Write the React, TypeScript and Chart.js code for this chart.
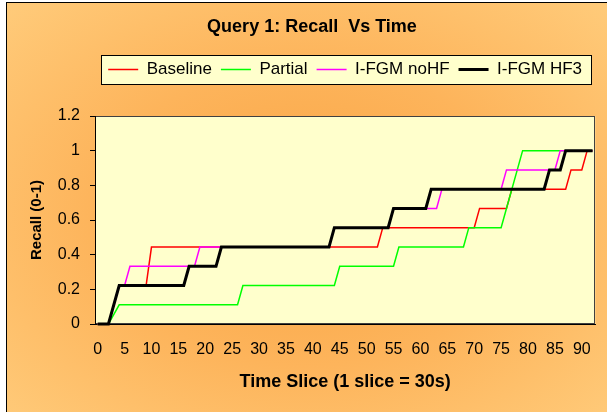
import React, { useEffect, useRef } from 'react';
import { Chart, registerables } from 'chart.js';

Chart.register(...registerables);

const titleText = 'Query 1: Recall  Vs Time';
const xTitleText = 'Time Slice (1 slice = 30s)';
const yTitleText = 'Recall (0-1)';

const seriesNames = ['Baseline', 'Partial', 'I-FGM noHF', 'I-FGM HF3'];
const seriesColors = ['#FF0000', '#00FF00', '#FF00FF', '#000000'];
const seriesWidths = [1.5, 1.5, 1.5, 3];

// corner points (time slice, recall) of each step curve
const baselineX = [0, 2, 4, 9, 10, 52, 53, 70, 71, 76, 77, 87, 88, 90, 91, 92];
const baselineY = [0, 0, 0.222, 0.222, 0.444, 0.444, 0.556, 0.556, 0.667, 0.667, 0.778, 0.778, 0.889, 0.889, 1, 1];

const partialX = [0, 2, 4, 26, 27, 44, 45, 55, 56, 68, 69, 75, 79, 92];
const partialY = [0, 0, 0.111, 0.111, 0.222, 0.222, 0.333, 0.333, 0.444, 0.444, 0.556, 0.556, 1, 1];

const noHFX = [0, 2, 4, 5, 6, 18, 19, 43, 44, 54, 55, 63, 64, 75, 76, 85, 86, 92];
const noHFY = [0, 0, 0.222, 0.222, 0.333, 0.333, 0.444, 0.444, 0.556, 0.556, 0.667, 0.667, 0.778, 0.778, 0.889, 0.889, 1, 1];

const hf3X = [0, 2, 4, 16, 17, 22, 23, 43, 44, 54, 55, 61, 62, 83, 84, 86, 87, 92];
const hf3Y = [0, 0, 0.222, 0.222, 0.333, 0.333, 0.444, 0.444, 0.556, 0.556, 0.667, 0.667, 0.778, 0.778, 0.889, 0.889, 1, 1];

const xTickValues = [0, 5, 10, 15, 20, 25, 30, 35, 40, 45, 50, 55, 60, 65, 70, 75, 80, 85, 90];
const yTickValues = [0, 0.2, 0.4, 0.6, 0.8, 1, 1.2];
const yTickLabels = ['0', '0.2', '0.4', '0.6', '0.8', '1', '1.2'];

const bgPlugin = {
  id: 'bgPlugin',
  beforeDraw(chart: any) {
    const { ctx, chartArea: a } = chart;
    ctx.save();
    ctx.fillStyle = '#FFFFCC';
    ctx.fillRect(a.left, a.top, a.right - a.left, a.bottom - a.top);
    ctx.strokeStyle = '#404040';
    ctx.lineWidth = 1;
    ctx.strokeRect(Math.round(a.left) + 0.5, Math.round(a.top) + 0.5, Math.round(a.right - a.left) - 1, Math.round(a.bottom - a.top) - 1);
    const lg = chart.legend;
    const hb = lg && lg.legendHitBoxes;
    if (hb && hb.length) {
      const first = hb[0];
      const last = hb[hb.length - 1];
      const cy = first.top + first.height / 2;
      const l = Math.round(first.left - 7.5) + 0.5;
      const r = Math.round(last.left + last.width + 8.5) + 0.5;
      const t = Math.round(cy - 14.5) + 0.5;
      const b = Math.round(cy + 14.5) + 0.5;
      ctx.fillStyle = '#FFFFCC';
      ctx.fillRect(l, t, r - l, b - t);
      ctx.strokeStyle = '#000000';
      ctx.strokeRect(l, t, r - l, b - t);
    }
    ctx.restore();
  },
};

export default function App() {
  const ref = useRef<HTMLCanvasElement>(null);

  useEffect(() => {
    if (!ref.current) return;
    Chart.defaults.font.family = '"Liberation Sans", Arial, sans-serif';
    Chart.defaults.color = '#000000';
    const xs = [baselineX, partialX, noHFX, hf3X];
    const ys = [baselineY, partialY, noHFY, hf3Y];
    const datasets = seriesNames.map((name, i) => ({
      label: name,
      data: xs[i].map((x, j) => ({ x, y: ys[i][j] })),
      borderColor: seriesColors[i],
      backgroundColor: seriesColors[i],
      borderWidth: seriesWidths[i],
      pointRadius: 0,
      pointHoverRadius: 0,
      pointStyle: 'line',
      fill: false,
      tension: 0,
      clip: false as any,
      order: seriesNames.length - 1 - i,
    }));

    const chart = new Chart(ref.current, {
      type: 'line',
      data: { datasets },
      plugins: [bgPlugin],
      options: {
        responsive: false,
        animation: false,
        devicePixelRatio: 1,
        events: [],
        layout: { padding: { left: 25, right: 8, top: 0, bottom: 0 } },
        plugins: {
          title: {
            display: true,
            text: titleText,
            color: '#000000',
            font: { size: 18, weight: 'bold' },
            padding: { top: 16.5, bottom: 13.9 },
          },
          legend: {
            display: true,
            position: 'top',
            fullSize: false,
            labels: {
              usePointStyle: true,
              pointStyle: 'line',
              pointStyleWidth: 30,
              boxWidth: 30,
              padding: 9,
              color: '#000000',
              font: { size: 17 },
              sort: (a: any, b: any) => a.datasetIndex - b.datasetIndex,
            },
          },
          tooltip: { enabled: false },
        },
        scales: {
          x: {
            type: 'linear',
            position: 'bottom',
            min: -0.5,
            max: 92.5,
            afterBuildTicks: (s: any) => {
              s.ticks = xTickValues.map((v) => ({ value: v }));
            },
            afterFit: (s: any) => {
              s.height = 88;
            },
            grid: { display: false, drawTicks: false },
            border: { display: true, color: '#000000', width: 1 },
            ticks: { autoSkip: false, maxRotation: 0, padding: 16, color: '#000000', font: { size: 16 } },
            title: {
              display: true,
              text: xTitleText,
              color: '#000000',
              font: { size: 18, weight: 'bold' },
              padding: { top: 0, bottom: 19.5 },
            },
          },
          xTop: {
            type: 'linear',
            position: 'top',
            display: true,
            ticks: { display: false },
            grid: { display: false, drawTicks: false },
            border: { display: false },
            afterFit: (s: any) => {
              s.height = 28;
            },
          },
          y: {
            type: 'linear',
            position: 'left',
            min: 0,
            max: 1.2,
            afterBuildTicks: (s: any) => {
              s.ticks = yTickValues.map((v) => ({ value: v }));
            },
            afterFit: (s: any) => {
              s.width = 70;
            },
            grid: { display: true, drawOnChartArea: false, drawTicks: true, tickLength: 5, color: '#000000', lineWidth: 1 },
            border: { display: true, color: '#000000', width: 1 },
            ticks: {
              padding: 10,
              color: '#000000',
              font: { size: 16 },
              callback: (_v: any, i: number) => yTickLabels[i],
            },
            title: {
              display: true,
              text: yTitleText,
              color: '#000000',
              font: { size: 15, weight: 'bold' },
              padding: { top: 2.4, bottom: 0 },
            },
          },
        },
      } as any,
    });
    return () => chart.destroy();
  }, []);

  return (
    <div style={{ position: 'fixed', left: 0, top: 0, width: 607, height: 412, overflow: 'hidden' }}>
      <div
        style={{
          position: 'absolute',
          left: 6,
          top: 2,
          width: 601,
          height: 410,
          boxSizing: 'border-box',
          borderLeft: '1px solid #000',
          borderTop: '1px solid #000',
          background: 'radial-gradient(ellipse farthest-corner at 50% 52%, #F9A443 0%, #FDB45B 50%, #FFCB7A 100%)',
        }}
      />
      <canvas ref={ref} width={607} height={412} style={{ position: 'absolute', left: 0, top: 0, display: 'block' }} />
    </div>
  );
}
